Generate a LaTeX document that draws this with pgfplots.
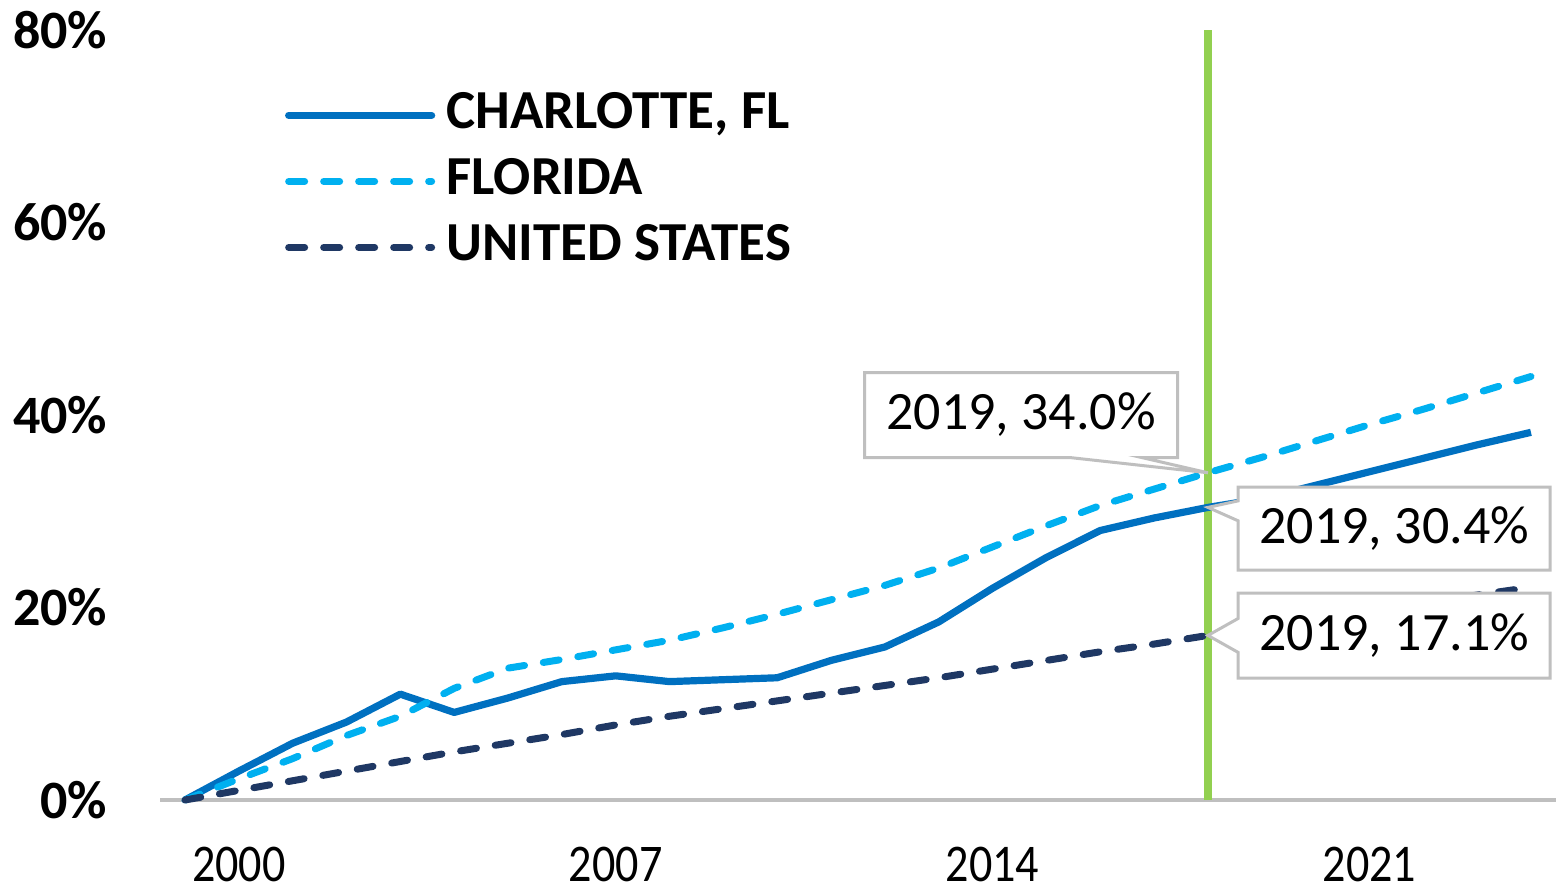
\documentclass[border=0pt]{standalone}
\usepackage{fontspec}
\setmainfont{Carlito}
\newfontfamily\condfont[FakeStretch=0.87]{Carlito}
\usepackage{pgfplots}
\pgfplotsset{compat=1.18}
\usetikzlibrary{shapes.callouts}
\definecolor{charl}{HTML}{0070C0}
\definecolor{flor}{HTML}{00B0F0}
\definecolor{usa}{HTML}{1F3864}
\definecolor{grn}{HTML}{92D050}
\definecolor{axgray}{HTML}{BFBFBF}
\begin{document}
\begin{tikzpicture}
\path[use as bounding box] (0,0) rectangle (389pt,222.75pt);
\begin{axis}[
 at={(40pt,22.75pt)}, anchor=south west,
 width=349pt, height=192.5pt, scale only axis,
 xmin=1999.536, xmax=2025.465, ymin=0, ymax=80,
 axis lines=left,
 x axis line style={draw=axgray, line width=1pt, -},
 y axis line style={draw=none},
 major tick length=0pt,
 tick style={draw=none},
 xtick={2001,2008,2015,2022},
 xticklabels={2000,2007,2014,2021},
 ytick={0,20,40,60,80},
 yticklabel={\pgfmathprintnumber{\tick}\%},
 /pgf/number format/assume math mode=true,
 yticklabel style={font=\fontsize{13.5}{15}\selectfont\bfseries, anchor=east, inner sep=0pt, xshift=-13pt},
 xticklabel style={font=\condfont\fontsize{13.25}{15}\selectfont, anchor=north, inner sep=0pt, yshift=-11.5pt},
 clip=false,
 legend style={at={(0.089,0.92)}, anchor=north west, draw=none, fill=none, inner sep=0pt,
   font=\fontsize{13.75}{15}\selectfont\bfseries, row sep=5pt, column sep=2.75pt,
   nodes={inner sep=0pt, text height=9pt, text depth=2.5pt}, cells={anchor=west}},
 legend image code/.code={\draw[#1, line cap=round] (0pt,0pt) -- (35.75pt,0pt);},
]
\addplot[grn, line width=2pt, forget plot] coordinates {(2019,0) (2019,80)};

\addplot[charl, line width=1.8pt, line join=round] coordinates {
(2000,0) (2001,3.0) (2002,5.9) (2003,8.1) (2004,11.0) (2005,9.1) (2006,10.6) (2007,12.3)
(2008,12.9) (2009,12.3) (2010,12.5) (2011,12.7) (2012,14.5) (2013,15.9) (2014,18.5)
(2015,22.0) (2016,25.2) (2017,28.0) (2018,29.3) (2019,30.4) (2020,31.3) (2021,32.7)
(2022,34.1) (2023,35.5) (2024,36.9) (2025,38.2)};
\addlegendentry{CHARLOTTE, FL}

\addplot[flor, line width=1.75pt, line cap=round, dash pattern=on 4pt off 4.75pt] coordinates {
(2000,0) (2001,2.2) (2002,4.3) (2003,6.7) (2004,8.7) (2005,11.6) (2006,13.7) (2007,14.6)
(2008,15.6) (2009,16.6) (2010,17.9) (2011,19.3) (2012,20.8) (2013,22.3) (2014,24.1)
(2015,26.3) (2016,28.5) (2017,30.6) (2018,32.3) (2019,34.0) (2020,35.6) (2021,37.3)
(2022,39.0) (2023,40.6) (2024,42.3) (2025,44.0)};
\addlegendentry{FLORIDA}

\addplot[usa, line width=1.75pt, line cap=round, dash pattern=on 4pt off 4.75pt] coordinates {
(2000,0) (2001,1.0) (2002,2.0) (2003,3.0) (2004,4.0) (2005,5.0) (2006,5.9) (2007,6.8)
(2008,7.8) (2009,8.7) (2010,9.5) (2011,10.3) (2012,11.1) (2013,11.9) (2014,12.7)
(2015,13.6) (2016,14.5) (2017,15.4) (2018,16.2) (2019,17.1) (2020,17.9) (2021,18.8)
(2022,19.6) (2023,20.4) (2024,21.3) (2025,22.1)};
\addlegendentry{UNITED STATES}

\node[rectangle callout, draw=axgray, line width=0.75pt, fill=white, minimum width=78.25pt,
  minimum height=21.25pt, inner sep=0pt, font=\fontsize{13.5}{15}\selectfont,
  callout absolute pointer={(axis cs:2019,34)}, callout pointer width=18pt]
  at (axis cs:2015.53,40) {2019, 34.0\%};
\node[rectangle callout, draw=axgray, line width=0.75pt, fill=white, minimum width=78pt,
  minimum height=20.75pt, inner sep=0pt, font=\fontsize{13.5}{15}\selectfont,
  callout absolute pointer={(axis cs:2019,30.4)}, callout pointer width=5pt]
  at (axis cs:2022.46,28.2) {2019, 30.4\%};
\node[rectangle callout, draw=axgray, line width=0.75pt, fill=white, minimum width=78pt,
  minimum height=21.25pt, inner sep=0pt, font=\fontsize{13.5}{15}\selectfont,
  callout absolute pointer={(axis cs:2019,17.1)}, callout pointer width=8.5pt]
  at (axis cs:2022.46,17.09) {2019, 17.1\%};
\end{axis}
\end{tikzpicture}
\end{document}
